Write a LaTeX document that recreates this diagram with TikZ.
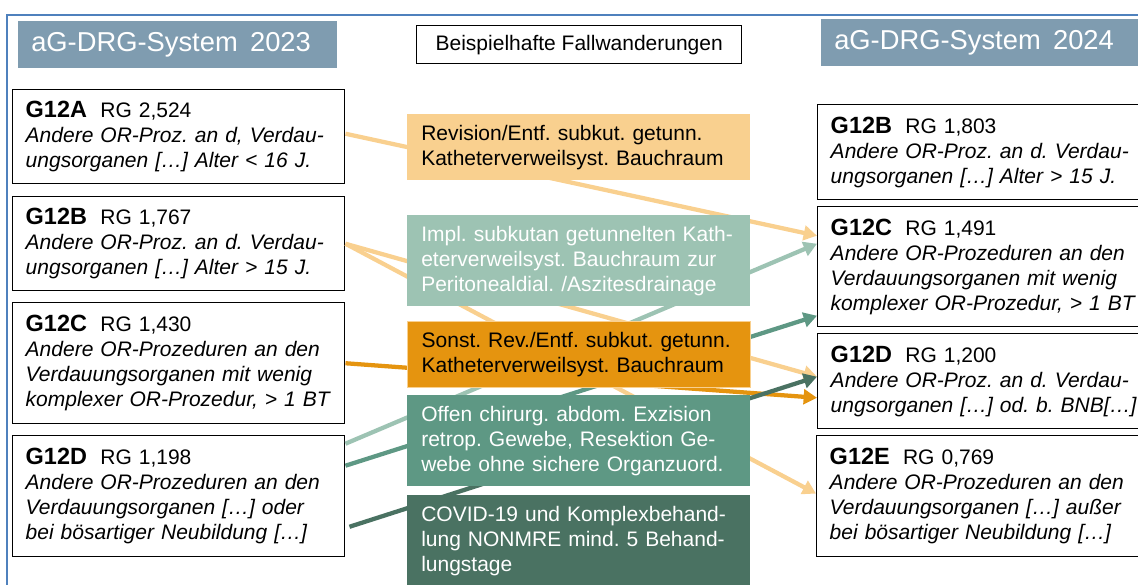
\documentclass[tikz,border=0pt]{standalone}
\usepackage{fontspec}
\setmainfont{Liberation Sans}
\usetikzlibrary{arrows.meta}
\frenchspacing
\definecolor{headblue}{HTML}{7F9CB0}
\definecolor{frameblue}{HTML}{4F81BD}
\definecolor{lightorange}{HTML}{F9D08F}
\definecolor{darkorange}{HTML}{E5940F}
\definecolor{lightteal}{HTML}{9DC3B3}
\definecolor{midteal}{HTML}{5E9884}
\definecolor{darkteal}{HTML}{4A7262}
\newcommand{\drgline}[2]{{\fontsize{17.6pt}{18.75pt}\selectfont\bfseries #1}\hspace{10pt}RG #2}
\begin{document}
\begin{tikzpicture}[x=0.75pt, y=-0.75pt,
	every node/.style={font=\fontsize{15.75pt}{18.75pt}\selectfont},
	head/.style={fill=headblue, text=white, anchor=north west, align=left, text width=219.75pt, inner xsep=9.75pt, minimum height=35.25pt, font=\fontsize{20.5pt}{24pt}\selectfont},
	drg/.style={draw, line width=1.1pt, anchor=north west, align=left, text width=229.5pt, inner xsep=9.75pt, inner ysep=0pt, minimum height=#1},
	proc/.style={anchor=north west, align=left, text width=236.25pt, inner xsep=10.5pt, inner ysep=8pt, minimum height=#1},
	flow/.style={line width=3.2pt, -{Triangle[length=10pt, width=11pt]}}]
	\useasboundingbox (0,0) rectangle (1138,585);
	\draw[frameblue, line width=1.5pt] (7,15) rectangle (1200,650);
	% headers
	\node[head] (h23) at (18,21) {aG-DRG-System\hspace{0.45em}2023};
	\node[draw, line width=1.1pt, anchor=north west, minimum width=243.75pt, minimum height=28.5pt] (fw) at (416,25) {Beispielhafte Fallwanderungen};
	\node[head] (h24) at (821,19) {aG-DRG-System\hspace{0.45em}2024};
	% 2023
	\node[drg=70.5pt] (a23) at (12,89) {\drgline{G12A}{2,524}\\ \itshape Andere OR-Proz. an d, Verdau-\\ ungsorganen […] Alter < 16 J.};
	\node[drg=70.5pt] (b23) at (12,196) {\drgline{G12B}{1,767}\\ \itshape Andere OR-Proz. an d. Verdau-\\ ungsorganen […] Alter > 15 J.};
	\node[drg=90.75pt] (c23) at (12,302) {\drgline{G12C}{1,430}\\ \itshape Andere OR-Prozeduren an den\\ Verdauungsorganen mit wenig\\ komplexer OR-Prozedur, > 1 BT};
	\node[drg=90.75pt] (d23) at (12,435) {\drgline{G12D}{1,198}\\ \itshape Andere OR-Prozeduren an den\\ Verdauungsorganen […] oder\\ bei bösartiger Neubildung […]};
	% 2024
	\node[drg=71.25pt] (b24) at (817,104) {\drgline{G12B}{1,803}\\ \itshape Andere OR-Proz. an d. Verdau-\\ ungsorganen […] Alter > 15 J.};
	\node[drg=90pt] (c24) at (817,206) {\drgline{G12C}{1,491}\\ \itshape Andere OR-Prozeduren an den\\ Verdauungsorganen mit wenig\\ komplexer OR-Prozedur, > 1 BT};
	\node[drg=71.25pt] (d24) at (817,333) {\drgline{G12D}{1,200}\\ \itshape Andere OR-Proz. an d. Verdau-\\ ungsorganen […] od. b. BNB[…]};
	\node[drg=90.75pt] (e24) at (816,435) {\drgline{G12E}{0,769}\\ \itshape Andere OR-Prozeduren an den\\ Verdauungsorganen […] außer\\ bei bösartiger Neubildung […]};
	% Fallwanderungen
	\draw[flow, lightorange] ([yshift=2.25pt]a23.east) -- ([yshift=23.25pt]c24.west);
	\draw[flow, lightorange] (b23.east) -- ([yshift=3.4pt]d24.west);
	\draw[flow, lightorange] (b23.east) -- ([yshift=2pt]e24.west);
	\draw[flow, darkorange] (c23.east) -- ([yshift=-12.4pt]d24.west);
	\draw[flow, lightteal] ([yshift=39.4pt]d23.east) -- ([yshift=17.25pt]c24.west);
	\draw[flow, midteal] ([yshift=22.9pt]d23.east) -- ([yshift=-36.75pt]c24.west);
	\draw[flow, darkteal] ([xshift=3pt, yshift=-22.9pt]d23.east) -- ([yshift=3.4pt]d24.west);
	% Prozeduren
	\node[proc=48.75pt, fill=lightorange] (rev) at (407,114) {Revision/Entf. subkut. getunn.\\ Katheterverweilsyst. Bauchraum};
	\node[proc=66.75pt, fill=lightteal, text=white] (impl) at (407,215) {Impl. subkutan getunnelten Kath-\\ eterverweilsyst. Bauchraum zur\\ Peritonealdial. /Aszitesdrainage};
	\node[proc=48pt, fill=darkorange, draw=lightorange, line width=1pt] (sonst) at (407,321) {Sonst. Rev./Entf. subkut. getunn.\\ Katheterverweilsyst. Bauchraum};
	\node[proc=67.5pt, fill=midteal, text=white] (offen) at (407,395) {Offen chirurg. abdom. Exzision\\ retrop. Gewebe, Resektion Ge-\\ webe ohne sichere Organzuord.};
	\node[proc=0pt, fill=darkteal, text=white] (covid) at (407,495) {COVID-19 und Komplexbehand-\\ lung NONMRE mind. 5 Behand-\\ lungstage};
\end{tikzpicture}
\end{document}
